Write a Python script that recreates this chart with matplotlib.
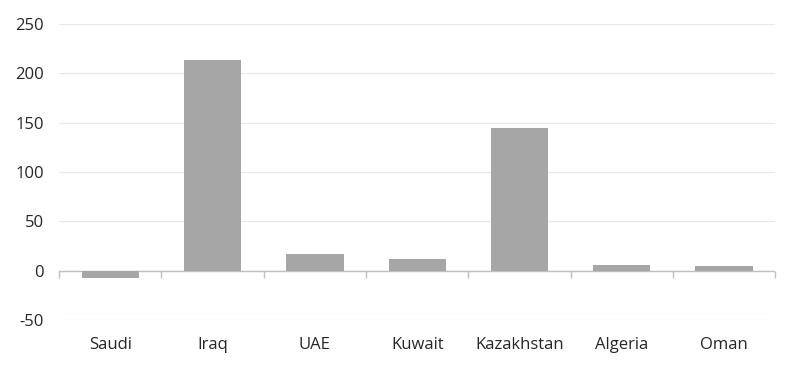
import matplotlib

matplotlib.use("Agg")
import matplotlib.pyplot as plt
import numpy as np

countries = ["Saudi", "Iraq", "UAE", "Kuwait", "Kazakhstan", "Algeria", "Oman"]
values = [-7, 213, 17, 12, 145, 6, 5]
y_ticks = [-50, 0, 50, 100, 150, 200, 250]

plt.rcParams["font.family"] = ["Open Sans", "DejaVu Sans"]
plt.rcParams["axes.unicode_minus"] = False

fig = plt.figure(figsize=(8, 3.68), dpi=100)
ax = fig.add_axes([0.074, 0.13, 0.895, 0.805])

x = np.arange(len(countries))
ax.bar(x, values, width=0.56, color="#a6a6a6", zorder=3)

ax.set_xlim(-0.5, len(countries) - 0.5)
ax.set_ylim(-50, 250)
ax.set_yticks(y_ticks)
ax.yaxis.grid(True, color="#e8e8e8", linewidth=0.9)
ax.set_axisbelow(True)

ax.axhline(0, color="#bfbfbf", linewidth=1.0, zorder=2)
bounds = np.arange(len(countries) + 1) - 0.5
ax.plot(bounds, np.zeros_like(bounds), linestyle="none", marker=3,
        markersize=5, markeredgewidth=1.0, color="#bfbfbf", zorder=2, clip_on=False)

ax.set_xticks(x, countries)
ax.tick_params(axis="both", length=0, labelsize=12, labelcolor="#262626")
ax.tick_params(axis="x", pad=12)
ax.tick_params(axis="y", pad=11)
for spine in ax.spines.values():
    spine.set_visible(False)

fig.savefig("out.png", dpi=100)
